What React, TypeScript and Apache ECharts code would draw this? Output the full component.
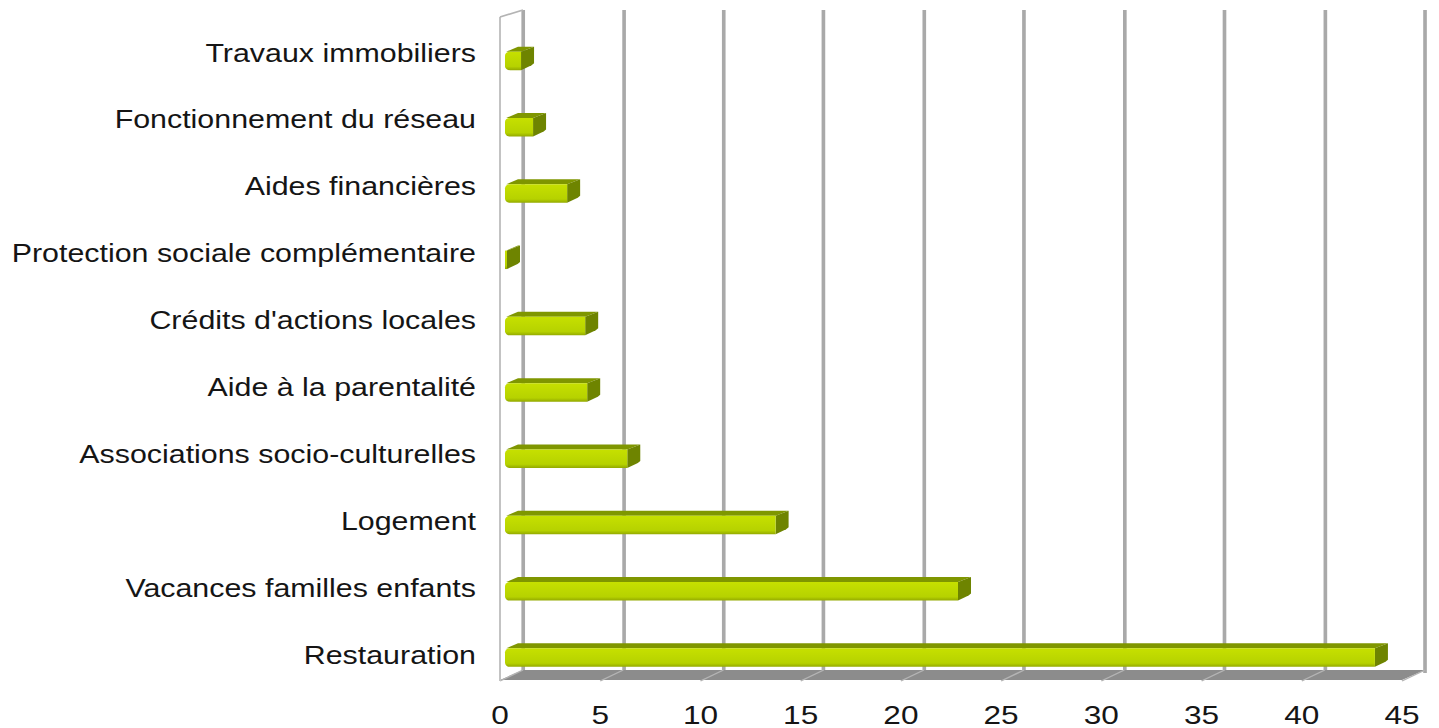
import React, { useEffect, useRef } from "react";
import * as echarts from "echarts";

const categories = [
  "Restauration",
  "Vacances familles enfants",
  "Logement",
  "Associations socio-culturelles",
  "Aide à la parentalité",
  "Crédits d'actions locales",
  "Protection sociale complémentaire",
  "Aides financières",
  "Fonctionnement du réseau",
  "Travaux immobiliers",
];
const values = [43.4, 22.6, 13.5, 6.1, 4.1, 4.0, 0.1, 3.1, 1.4, 0.8];
const xMin = 0;
const xMax = 45;
const xStep = 5;

const STRETCH = 1.215;
const CW = Math.round(1439 / STRETCH);
const SX = 1439 / CW;
const px = (refX: number) => refX / SX;
const DEPTH_X = px(23);
const DEPTH_Y = -10;

export default function App() {
  const ref = useRef<HTMLDivElement>(null);
  useEffect(() => {
    if (!ref.current) return;
    const chart = echarts.init(ref.current, undefined, { renderer: "svg" });
    const frontLeft = px(500);
    const frontWidth = px(902);
    const font = "'Liberation Sans', Arial, sans-serif";

    chart.setOption({
      animation: false,
      backgroundColor: "#ffffff",
      grid: [
        {
          left: frontLeft + DEPTH_X,
          top: 10,
          width: frontWidth,
          bottom: 728 - 673,
        },
        {
          left: frontLeft,
          top: 17,
          width: frontWidth,
          bottom: 728 - 683,
        },
        {
          left: frontLeft,
          top: 19.6,
          width: frontWidth,
          height: 668.9,
        },
      ],
      xAxis: [
        {
          gridIndex: 0,
          type: "value",
          min: xMin,
          max: xMax,
          interval: xStep,
          axisLine: { show: false },
          axisTick: { show: false },
          axisLabel: { show: false },
          splitLine: { show: true, lineStyle: { color: "#a9a9a9", width: 3 } },
        },
        {
          gridIndex: 1,
          type: "value",
          min: xMin,
          max: xMax,
          interval: xStep,
          axisLine: { show: false },
          axisTick: { show: false },
          splitLine: { show: false },
          axisLabel: {
            fontSize: 26,
            color: "#151515",
            margin: 22,
            fontFamily: font,
          },
        },
        {
          gridIndex: 2,
          type: "value",
          min: xMin,
          max: xMax,
          show: false,
        },
      ],
      yAxis: [
        {
          gridIndex: 0,
          type: "category",
          data: categories,
          show: false,
        },
        {
          gridIndex: 1,
          type: "category",
          data: categories,
          axisLine: { show: false },
          axisTick: { show: false },
          splitLine: { show: false },
          axisLabel: { show: false },
        },
        {
          gridIndex: 2,
          type: "category",
          data: categories,
          axisLine: { show: false },
          axisTick: { show: false },
          splitLine: { show: false },
          axisLabel: {
            fontSize: 25,
            color: "#151515",
            margin: px(24),
            fontFamily: font,
          },
        },
      ],
      series: [
        {
          type: "custom",
          xAxisIndex: 1,
          yAxisIndex: 1,
          silent: true,
          z: 1,
          data: [[0, 0]],
          renderItem: (params: any, api: any) => {
            const cs = params.coordSys;
            const yF = cs.y + cs.height;
            const yB = yF + DEPTH_Y;
            const xF0 = cs.x;
            const xF1 = cs.x + cs.width;
            const children: any[] = [];
            children.push({
              type: "polygon",
              shape: {
                points: [
                  [xF0, yF],
                  [xF1, yF],
                  [xF1 + DEPTH_X, yB],
                  [xF0 + DEPTH_X, yB],
                ],
              },
              style: { fill: "#8c8c8c" },
            });
            for (let v = xMin; v <= xMax; v += xStep) {
              const xf = api.coord([v, 0])[0];
              children.push({
                type: "line",
                shape: { x1: xf, y1: yF + 1, x2: xf + DEPTH_X, y2: yB },
                style: { stroke: "#b4b4b4", lineWidth: 1.4 },
              });
            }
            children.push({
              type: "line",
              shape: { x1: xF0, y1: cs.y, x2: xF0, y2: yF + 1 },
              style: { stroke: "#c2c2c2", lineWidth: 1.6 },
            });
            children.push({
              type: "line",
              shape: { x1: xF0, y1: cs.y, x2: xF0 + DEPTH_X, y2: cs.y - 7 },
              style: { stroke: "#b4b4b4", lineWidth: 1.6 },
            });
            return { type: "group", children };
          },
        },
        {
          type: "custom",
          name: "Budget",
          xAxisIndex: 1,
          yAxisIndex: 1,
          z: 3,
          encode: { x: 0, y: 1 },
          data: values.map((v, i) => [v, i]),
          renderItem: (params: any, api: any) => {
            const v = api.value(0);
            const idx = api.value(1);
            const end = api.coord([v, idx]);
            const start = api.coord([0, idx]);
            const off = px(5);
            const x0 = start[0] + off;
            const x1 = end[0] + off;
            const yt = end[1] + 1.5;
            const yb = end[1] + 20;
            const bdx = px(13);
            const bdy = -5;
            return {
              type: "group",
              children: [
                {
                  type: "polygon",
                  shape: {
                    points: [
                      [x0 + 1, yt],
                      [x1, yt],
                      [x1 + bdx, yt + bdy],
                      [x0 + bdx, yt + bdy],
                    ],
                  },
                  style: { fill: "#7f9600" },
                },
                {
                  type: "polygon",
                  shape: {
                    points: [
                      [x1, yt],
                      [x1 + bdx, yt + bdy],
                      [x1 + bdx, yb + bdy - 2],
                      [x1 + bdx - 2, yb + bdy],
                      [x1, yb],
                    ],
                  },
                  style: { fill: "#6e8400" },
                },
                {
                  type: "rect",
                  shape: {
                    x: x0,
                    y: yt,
                    width: Math.max(x1 - x0, 0.5),
                    height: yb - yt,
                    r: x1 - x0 > 8 ? [4, 0, 0, 4] : 0,
                  },
                  style: {
                    fill: new echarts.graphic.LinearGradient(0, 0, 0, 1, [
                      { offset: 0, color: "#c6e000" },
                      { offset: 0.8, color: "#b6d200" },
                      { offset: 1, color: "#93a900" },
                    ]),
                  },
                },
              ],
            };
          },
        },
      ],
    });
    return () => chart.dispose();
  }, []);

  return (
    <div
      style={{
        position: "fixed",
        left: 0,
        top: 0,
        width: 1439,
        height: 728,
        overflow: "hidden",
        background: "#ffffff",
      }}
    >
      <div
        ref={ref}
        style={{
          width: CW,
          height: 728,
          transform: `scaleX(${SX})`,
          transformOrigin: "0 0",
        }}
      />
    </div>
  );
}
